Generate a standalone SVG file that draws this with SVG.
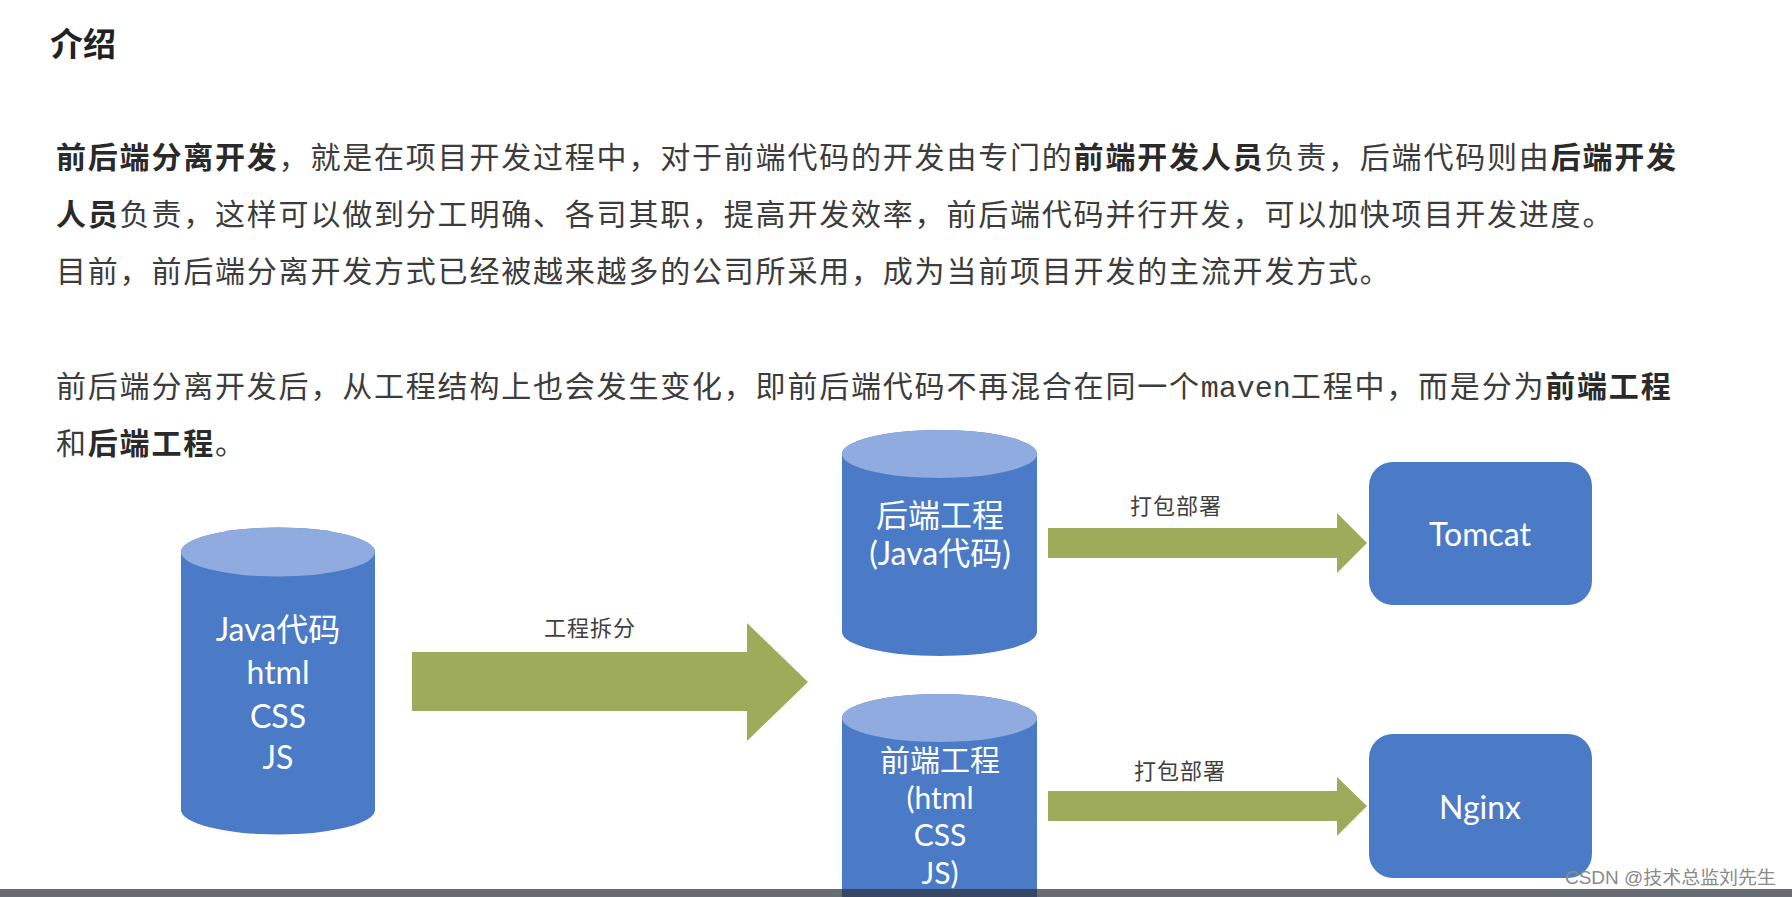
<svg xmlns="http://www.w3.org/2000/svg" width="1792" height="897" viewBox="0 0 1792 897">
<style>
.p{font-family:"Noto Sans CJK SC","Noto Sans",sans-serif;font-size:30px;fill:#3c3c3c;letter-spacing:1.8px}
.b{font-weight:700;fill:#2a2a2a}
.m{font-family:"Liberation Mono","DejaVu Sans Mono",monospace;letter-spacing:0}
.title{font-family:"Noto Sans CJK SC",sans-serif;font-size:33px;font-weight:700;fill:#222}
.cyl{fill:#4B7BC7}
.top{fill:#8FABDF}
.box{fill:#4B7BC7}
.arrow{fill:#9DAB5A}
.ct{font-family:Lato,"Noto Sans CJK SC",sans-serif;font-size:32px;fill:#fff;text-anchor:middle}
.sm{font-size:30px}
.lbl{font-family:"Noto Sans CJK SC",sans-serif;font-size:22px;fill:#404040;text-anchor:middle;letter-spacing:1px}
</style>
<rect width="1792" height="897" fill="#fff"/>
<text class="title" x="50" y="56">介绍</text>
<text class="p" x="56" y="168"><tspan class="b">前后端分离开发</tspan>，就是在项目开发过程中，对于前端代码的开发由专门的<tspan class="b">前端开发人员</tspan>负责，后端代码则由<tspan class="b">后端开发</tspan></text>
<text class="p" x="56" y="225"><tspan class="b">人员</tspan>负责，这样可以做到分工明确、各司其职，提高开发效率，前后端代码并行开发，可以加快项目开发进度。</text>
<text class="p" x="56" y="282">目前，前后端分离开发方式已经被越来越多的公司所采用，成为当前项目开发的主流开发方式。</text>
<text class="p" x="56" y="397">前后端分离开发后，从工程结构上也会发生变化，即前后端代码不再混合在同一个<tspan class="m">maven</tspan>工程中，而是分为<tspan class="b">前端工程</tspan></text>
<text class="p" x="56" y="454">和<tspan class="b">后端工程</tspan>。</text>

<g id="connectors">
<polygon class="arrow" points="412,652 747,652 747,623 808,682 747,741 747,711 412,711"/>
<text class="lbl" x="590" y="636">工程拆分</text>
<polygon class="arrow" points="1048,528 1337,528 1337,513 1367,543 1337,573 1337,558 1048,558"/>
<text class="lbl" x="1176" y="514">打包部署</text>
<polygon class="arrow" points="1048,791 1337,791 1337,777 1367,806 1337,836 1337,821 1048,821"/>
<text class="lbl" x="1180" y="779">打包部署</text>
</g>

<g id="source">
<path class="cyl" d="M181,552 L181,810 A97,24.5 0 0 0 375,810 L375,552 A97,24.5 0 0 0 181,552 Z"/>
<ellipse class="top" cx="278" cy="552" rx="97" ry="24.5"/>
<text class="ct" x="278" y="641">Java代码</text>
<text class="ct" x="278" y="684">html</text>
<text class="ct" x="278" y="728">CSS</text>
<text class="ct" x="278" y="769">JS</text>
</g>

<g id="backend">
<path class="cyl" d="M842,454 L842,632 A97.5,24 0 0 0 1037,632 L1037,454 A97.5,24 0 0 0 842,454 Z"/>
<ellipse class="top" cx="939.5" cy="454" rx="97.5" ry="24"/>
<text class="ct" x="940" y="527">后端工程</text>
<text class="ct" x="940" y="565">(Java代码)</text>
</g>

<g id="frontend">
<path class="cyl" d="M842,718 L842,900 A97.5,24 0 0 0 1037,900 L1037,718 A97.5,24 0 0 0 842,718 Z"/>
<ellipse class="top" cx="939.5" cy="718" rx="97.5" ry="24"/>
<text class="ct sm" x="940" y="771">前端工程</text>
<text class="ct sm" x="940" y="809">(html</text>
<text class="ct sm" x="940" y="846">CSS</text>
<text class="ct sm" x="940" y="884">JS)</text>
</g>

<g id="tomcat">
<rect class="box" x="1369" y="462" width="223" height="143" rx="24" ry="24"/>
<text class="ct" x="1480" y="546">Tomcat</text>
</g>

<g id="nginx">
<rect class="box" x="1369" y="734" width="223" height="144" rx="24" ry="24"/>
<text class="ct" x="1480" y="819">Nginx</text>
</g>

<text x="1565" y="884" textLength="211" lengthAdjust="spacingAndGlyphs" font-family="'Liberation Sans','Noto Sans CJK SC',sans-serif" font-size="18" fill="#8a8a8a">CSDN @技术总监刘先生</text>
<rect x="0" y="889" width="1792" height="8" fill="#2e343e" fill-opacity="0.72"/>
</svg>
